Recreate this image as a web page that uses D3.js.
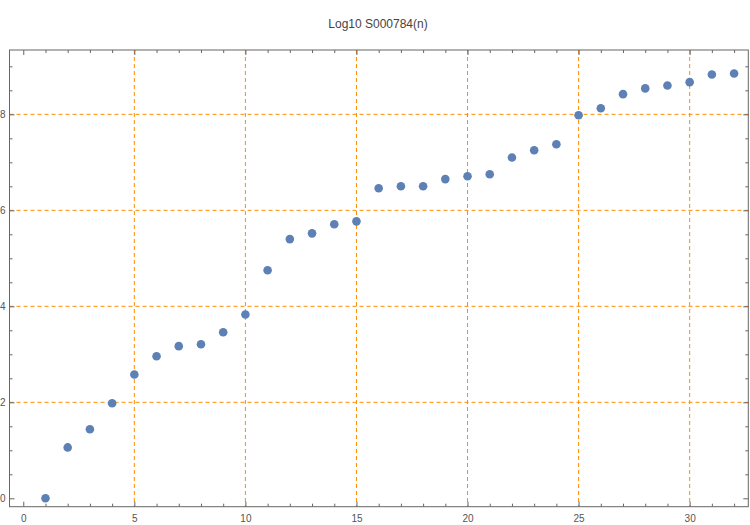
<!DOCTYPE html>
<html><head><meta charset="utf-8">
<script src="https://cdn.jsdelivr.net/npm/d3@7"></script>
<style>body{margin:0;background:#fff}svg{display:block}text{font-family:"Liberation Sans",Arial,sans-serif}</style>
</head><body><svg id="c" width="750" height="525"></svg>
<script>
const nValues = d3.range(1, 33);
const logValues = [0.00,1.06,1.44,1.98,2.58,2.96,3.17,3.21,3.46,3.83,4.75,5.40,5.52,5.71,5.77,6.46,6.50,6.50,6.65,6.71,6.75,7.10,7.25,7.375,7.98,8.125,8.42,8.54,8.60,8.67,8.83,8.85];
const xTickLabels = [0,5,10,15,20,25,30];
const yTickLabels = [0,2,4,6,8];
const title = "Log10 S000784(n)";

const svg = d3.select("#c");
const L = 9.5, R = 748.3, T = 50, B = 506.7;
const x = d3.scaleLinear().domain([-0.62, 32.64]).range([L, R]);
const y = d3.scaleLinear().domain([-0.175, 9.34]).range([B, T]);

// grid
const grid = svg.append("g").attr("stroke", "#FF8C00").attr("stroke-width", 1).attr("stroke-dasharray", "4,3");
xTickLabels.filter(v => v > 0).forEach(v => grid.append("line").attr("x1", x(v)).attr("x2", x(v)).attr("y1", T).attr("y2", B));
yTickLabels.filter(v => v > 0).forEach(v => grid.append("line").attr("x1", L).attr("x2", R).attr("y1", y(v)).attr("y2", y(v)));

// frame axes
const frameColor = "#666";
const xMinor = d3.range(0, 33).filter(v => v % 5 !== 0);
const yMinor = d3.range(0, 9.01, 0.5).filter(v => v % 2 !== 0);
function styleAxis(g){ g.select(".domain").remove(); g.selectAll("line").attr("stroke", frameColor); g.selectAll("text").attr("fill","#555").attr("font-size","10px"); }
svg.append("g").attr("transform",`translate(0,${B})`).call(d3.axisBottom(x).tickValues(xTickLabels).tickSize(-5).tickPadding(8)).call(styleAxis);
svg.append("g").attr("transform",`translate(0,${B})`).call(d3.axisBottom(x).tickValues(xMinor).tickSize(-3).tickFormat("")).call(styleAxis);
svg.append("g").attr("transform",`translate(0,${T})`).call(d3.axisTop(x).tickValues(xTickLabels).tickSize(-5).tickFormat("")).call(styleAxis);
svg.append("g").attr("transform",`translate(0,${T})`).call(d3.axisTop(x).tickValues(xMinor).tickSize(-3).tickFormat("")).call(styleAxis);
svg.append("g").attr("transform",`translate(${L},0)`).call(d3.axisLeft(y).tickValues(yTickLabels).tickSize(-5).tickPadding(4)).call(styleAxis);
svg.append("g").attr("transform",`translate(${L},0)`).call(d3.axisLeft(y).tickValues(yMinor).tickSize(-3).tickFormat("")).call(styleAxis);
svg.append("g").attr("transform",`translate(${R},0)`).call(d3.axisRight(y).tickValues(yTickLabels).tickSize(-5).tickFormat("")).call(styleAxis);
svg.append("g").attr("transform",`translate(${R},0)`).call(d3.axisRight(y).tickValues(yMinor).tickSize(-3).tickFormat("")).call(styleAxis);
svg.append("rect").attr("x",L).attr("y",T).attr("width",R-L).attr("height",B-T).attr("fill","none").attr("stroke",frameColor).attr("stroke-width",1);

// points
svg.append("g").selectAll("circle").data(nValues).join("circle")
  .attr("cx", d => x(d)).attr("cy", (d,i) => y(logValues[i])).attr("r", 4.3)
  .attr("fill", "#5E81B5");

svg.append("text").attr("x", 378).attr("y", 28).attr("text-anchor","middle")
  .attr("font-size","12px").attr("fill","#444").text(title);
</script></body></html>
